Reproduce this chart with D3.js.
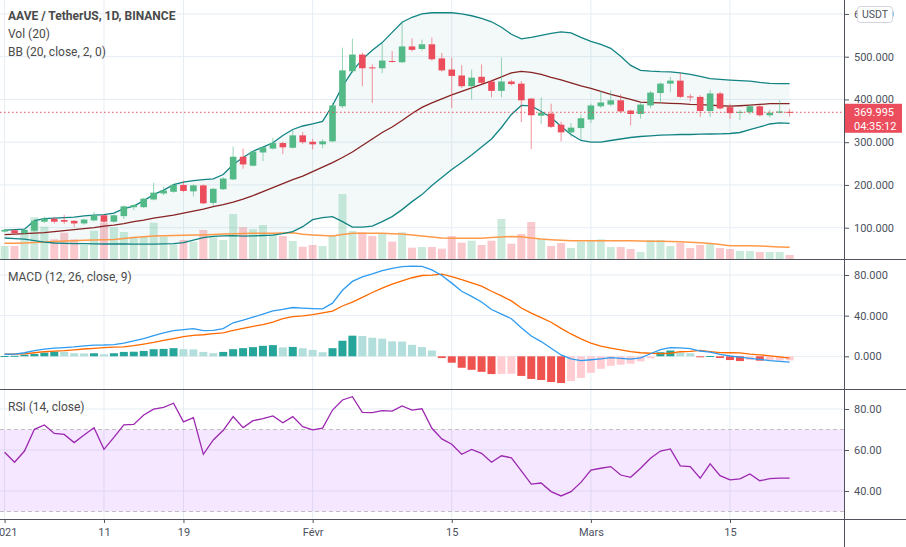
<!DOCTYPE html>
<html>
<head>
<meta charset="utf-8">
<script src="https://cdn.jsdelivr.net/npm/d3@7"></script>
<style>
body{margin:0;background:#fff;}
svg{display:block;font-family:Roboto,"Open Sans",sans-serif;}
</style>
</head>
<body>
<svg id="chart" width="906" height="547"></svg>
<script>
// daily candles, 1 Jan 2021 -> 21 Mar 2021
const firstDay = Date.UTC(2021, 0, 1);
const lastDay = Date.UTC(2021, 2, 22);

const open = [91,94,87,93,114,121,118,116,110,117,
  129,114,127,148,148,166,180,184,200,185,
  199,158,190,213,266,245,276,285,298,287,
  316,301,295,302,384,466,505,475,473,490,
  487,524,518,529,496,470,456,431,453,442,
  420,442,437,402,362,367,341,323,333,353,
  384,388,398,374,366,386,415,437,444,407,
  406,373,414,382,369,370,384,363,369,371];
const high = [97,96,97,119,126,125,130,118,121,137,
  131,131,152,155,170,205,196,203,210,201,
  201,193,218,290,285,280,290,310,301,328,
  324,308,307,392,521,542,510,482,531,513,
  583,543,540,545,509,498,480,470,482,446,
  498,446,443,403,405,390,348,345,365,390,
  420,421,412,376,392,420,440,453,462,413,
  410,422,418,390,376,386,387,376,398,378];
const low = [89,85,85,91,111,110,109,101,107,115,
  112,112,120,141,146,164,176,182,183,173,
  155,150,188,211,238,243,256,283,272,285,
  296,283,286,300,380,462,431,392,461,486,
  485,512,514,491,465,380,427,400,436,405,
  405,433,347,284,342,333,302,313,306,345,
  380,384,368,339,355,380,392,417,403,395,
  359,359,376,355,352,365,360,358,367,360];
const close = [95,87,95,116,121,114,114,110,119,129,
  114,129,150,153,168,182,187,200,186,199,
  157,191,215,266,248,278,288,298,288,316,
  300,295,302,386,468,505,473,473,491,488,
  524,516,529,494,468,455,431,451,439,420,
  442,436,398,363,369,336,323,334,356,386,
  393,398,372,366,388,416,437,444,406,406,
  373,414,379,368,371,384,363,369,372,369.995];

const volume = [13,13,25.7,41.7,32.3,19.7,26.3,19.7,14,28.3,
  36.3,31.7,27,22.3,23,36.3,22.3,14.7,19,17.3,
  29,21.7,19,45,31.7,29.7,34,25.7,23,18,
  12.3,14,13,24,65,28,26.7,23,25.7,17.3,
  26.7,11.3,12,12,10.3,23,16.3,18.3,14,18.3,
  40,15.3,25,37,20.5,13,16,11,17.3,18.3,
  19.7,12,12,10,7,19,19,13,16,11,
  14,16,11,10,8,8,7,7,7,4];
const volumeMA = [15.7,15.7,16,16.5,17,17.5,18,18.3,18.7,19,
  19.3,19.5,20.5,21.5,22.3,23,23.3,23.5,23.8,24,
  24,24.5,25,25.3,25.5,25.7,25.7,25.7,26,26.3,
  24.7,24,23.5,23,24.5,25.7,25.7,25.7,25.7,25.3,
  25,24,23,22,21,20.7,20.7,20.7,20.7,21.5,
  22,22.5,22.3,21,20,19.3,18.8,18.3,18.3,18.3,
  18.3,18.3,18.3,18.2,18,17.8,17.7,17.5,17.2,16.8,
  16.3,15.5,14.5,13.3,13.3,13.2,13,12.5,12,11.7];

const bbUpper = [94.2,95.4,96.6,116.5,121.2,122.3,123.5,124.7,127.5,129.4,
  130.5,134,144.6,150.5,163.3,177.4,188,200.8,206.7,210.2,
  212.6,214.2,224.3,247.7,264.1,278.9,288.7,298.6,315.7,329.7,
  337.9,342.6,348.5,386,430.5,466.4,493.8,514.9,532.9,557,
  580.5,592.2,600.4,602.8,603.2,602.8,600.4,595.8,589.9,581.7,
  568.8,552.4,541.8,545.3,550,554.7,558.2,555.9,545.3,536,
  528.9,519.6,500.8,479.7,468,466.1,465,464.5,462.2,458.6,
  453.9,448.6,446.9,445.3,444.1,442.9,439.9,437.5,436.8,436.8];
const bbBasis = [83.7,84.8,86,87.2,88.4,90.7,93,95.4,97.7,100.1,
  103.6,105.9,109.4,114.1,117.6,122.3,125.9,129.4,134,138.7,
  143.4,149.3,154,159.8,166.9,175.1,184.4,193.8,203.2,212.6,
  220.8,231.3,241.9,252.4,264.1,277,292.2,307.5,322.7,335.6,
  350.8,367.2,381.3,391.8,401.2,410.6,418.8,427,435.2,443.4,
  452.8,462.2,465.7,463.3,458.6,451.6,445.7,438.7,431.7,425.8,
  418.8,411.8,405.9,400,393.7,392.5,391.8,390.7,390,388.3,
  387.9,386.5,385.3,384.3,385.3,386.7,388.3,390,390.2,390];
const bbLower = [75.9,74.3,73.1,69.6,66.1,64.2,63.3,62.6,62.6,62.1,
  61.9,61.9,61.9,61.6,61.6,61.6,62.1,62.6,64.9,70.8,
  76.6,79.7,80.9,81.3,80.1,80.9,81.8,82.5,86,90.7,
  102.4,118.8,123.5,125.9,114.1,101.2,101.2,103.6,114.1,125.9,
  142.3,161,177.4,198.5,217.3,236,252.4,270,288.7,307.5,
  334.4,364.9,386,384.8,371.9,357.9,336.8,318,304,300.4,
  300.4,304,307.5,311,313.3,315,316.4,317.3,318,318,
  318.7,319.2,319.7,320.4,322.7,329.7,335.6,342.6,345,343.8];

const macdLine = [2,2.2,3.5,5.5,7,8,8.6,9.2,10.2,11,
  11.1,11.5,13,15.1,17.5,20.4,23,25.3,26.3,27.3,
  25.3,25.6,27.2,33,35.5,38.5,41.5,44.7,46.2,48,
  47.5,47,46.7,52.3,65,73.7,78.2,81,84.2,86.5,
  88.3,88.8,88.5,85,79.5,72,64,59,53.5,46,
  41.5,37,28,20,14.5,8,1.3,-2.5,-4.3,-3.4,
  -2.5,-1.4,-2,-2.7,-1.5,2.5,6.5,8.5,8.2,7.5,
  5.2,4.2,2,0.3,-0.8,-2,-3,-4.3,-5,-5.8];
const signalLine = [2,2.1,2.4,3.5,4.5,5,5.5,6.4,7.2,7.8,
  8.5,9,9.3,10.5,12,13.6,15.7,17.5,19.4,20.5,
  21.2,22.3,23,25.5,27.5,29.5,31.2,33.7,37,39,
  39.8,41,42.7,44.5,49.5,53.4,58,62.8,67,71,
  74.3,77.3,79.5,79.8,80.8,78.5,75.5,72.3,69,64,
  59.5,54.5,47.5,42.5,38,33.5,27.5,22,17.2,13,
  10,8,6.3,4.6,3.5,3,2.6,3,4.5,4.8,
  5.8,4.7,3.7,3.5,3.3,2.2,1.5,0.5,-0.6,-1.8];
const macdHist = [0.3,0.5,1.6,2.3,3.6,4.6,4.5,3,2.8,3,
  2,3,4.3,4.5,5.3,7,7.3,8,7,6.8,
  4.3,3,4.3,7,8,9,10.3,11,8.8,9.2,
  8,6.3,4,8,15.3,20.3,20,18.3,17.3,14.7,
  14.5,11.3,9,5.7,-1.7,-6.3,-11.3,-13.3,-15.3,-17.5,
  -17.3,-17.2,-19.3,-22.3,-23.3,-25.3,-26.3,-24.3,-21.3,-16.3,
  -12.3,-9.3,-8.3,-7.3,-5,-2,4,5.7,3.7,3,
  -0.7,0.3,-1.7,-3.7,-4.7,-3.7,-4.3,-4.2,-4.1,-4];

const rsi = [58.9,54,59.5,70.1,72.2,68.1,67.6,63.6,67.3,70.9,
  60.3,66.2,72.3,72.5,77.1,79.9,80.8,82.8,73.7,75.8,
  57.9,64.9,69.6,76.3,70.9,74.3,75.3,76.6,73.3,76.3,
  71.4,69.8,70.7,79.5,84.4,86,78.4,78.2,79.2,79,
  81.5,79.5,80.1,70.6,65.4,62.8,57.9,60.3,58.4,54,
  57.2,56.2,49.8,43.4,43.9,39.7,37.6,39.7,44.2,50.2,
  51.1,51.9,47.8,46.7,51.1,56,59.5,60.5,52.3,51.9,
  46.2,53.2,47.5,45.4,45.9,48.3,45,46,46.3,46.3];

const priceTicks = [100, 200, 300, 400, 500, 600];
const macdTicks = [0, 40, 80];
const rsiTicks = [40, 60, 80];
const timeTicks = [Date.UTC(2021,0,1), Date.UTC(2021,0,11), Date.UTC(2021,0,19),
  Date.UTC(2021,1,1), Date.UTC(2021,1,15), Date.UTC(2021,2,1), Date.UTC(2021,2,15)];
const timeLabels = ["2021", "11", "19", "Févr", "15", "Mars", "15"];

const days = d3.utcDay.range(new Date(firstDay), new Date(lastDay));
const candles = days.map((d, i) => ({
  date: d, o: open[i], h: high[i], l: low[i], c: close[i], v: volume[i],
  vma: volumeMA[i], up: bbUpper[i], mid: bbBasis[i], lo: bbLower[i],
  macd: macdLine[i], sig: signalLine[i], hist: macdHist[i], rsi: rsi[i]
}));

const plotRight = 844;
const panes = {main: [0, 259], macd: [259, 389], rsi: [389, 519]};

const upColor = "#53b987", downColor = "#eb4d5c";
const gridColor = "#e6edf3", lineColor = "#50535e", textColor = "#4c525e";

const x = d3.scaleUtc()
  .domain([new Date(Date.UTC(2021,0,1)), new Date(Date.UTC(2021,2,15))])
  .range([4.6, 730]);
const y = d3.scaleLinear().domain([100, 500]).range([227.7, 56.7]);
const yVol = d3.scaleLinear().domain([0, 100]).range([259, 159]);
const yMacd = d3.scaleLinear().domain([0, 80]).range([356.3, 275]);
const yRsi = d3.scaleLinear().domain([40, 80]).range([491, 409]);

const svg = d3.select("#chart");
const defs = svg.append("defs");
Object.entries(panes).forEach(([k, p]) => {
  defs.append("clipPath").attr("id", "clip-" + k)
    .append("rect").attr("x", 0).attr("y", p[0])
    .attr("width", plotRight).attr("height", p[1] - p[0]);
});

// grid
const grid = svg.append("g");
timeTicks.forEach(t => {
  grid.append("line").attr("x1", x(t)).attr("x2", x(t))
    .attr("y1", 0).attr("y2", panes.rsi[1])
    .attr("stroke", gridColor);
});
[[priceTicks, y], [macdTicks, yMacd], [rsiTicks, yRsi]].forEach(([ticks, s]) => {
  ticks.forEach(t => {
    grid.append("line").attr("x1", 0).attr("x2", plotRight)
      .attr("y1", s(t)).attr("y2", s(t)).attr("stroke", gridColor);
  });
});

// ---------- main pane ----------
const main = svg.append("g").attr("clip-path", "url(#clip-main)");

main.append("path").datum(candles)
  .attr("fill", "#198787").attr("fill-opacity", 0.05)
  .attr("d", d3.area().x(d => x(d.date)).y0(d => y(d.lo)).y1(d => y(d.up)));

main.append("g").selectAll("rect").data(candles).join("rect")
  .attr("x", d => x(d.date) - 4).attr("width", 8)
  .attr("y", d => yVol(d.v)).attr("height", d => yVol(0) - yVol(d.v))
  .attr("fill", d => d.c >= d.o ? upColor : downColor)
  .attr("fill-opacity", 0.3);

main.append("path").datum(candles)
  .attr("fill", "none").attr("stroke", "#ff9a4a").attr("stroke-width", 1.5)
  .attr("d", d3.line().x(d => x(d.date)).y(d => yVol(d.vma)));

[["up", "#138484"], ["lo", "#138484"], ["mid", "#872323"]].forEach(([k, col]) => {
  main.append("path").datum(candles)
    .attr("fill", "none").attr("stroke", col).attr("stroke-width", 1.3)
    .attr("d", d3.line().x(d => x(d.date)).y(d => y(d[k])));
});

const cg = main.append("g").selectAll("g").data(candles).join("g");
cg.append("line")
  .attr("x1", d => x(d.date)).attr("x2", d => x(d.date))
  .attr("y1", d => y(d.h)).attr("y2", d => y(d.l))
  .attr("stroke", d => d.c >= d.o ? upColor : downColor)
  .attr("stroke-opacity", 0.6);
cg.append("rect")
  .attr("x", d => x(d.date) - 3.3).attr("width", 6.6)
  .attr("y", d => y(Math.max(d.o, d.c)))
  .attr("height", d => Math.max(1, Math.abs(y(d.o) - y(d.c))))
  .attr("fill", d => d.c >= d.o ? upColor : downColor);

const lastClose = close[close.length - 1];
main.append("line").attr("x1", 0).attr("x2", plotRight)
  .attr("y1", y(lastClose)).attr("y2", y(lastClose))
  .attr("stroke", downColor).attr("stroke-dasharray", "1.5,2.5");

// ---------- MACD pane ----------
const macdG = svg.append("g").attr("clip-path", "url(#clip-macd)");
macdG.append("g").selectAll("rect").data(candles).join("rect")
  .attr("x", d => x(d.date) - 4).attr("width", 8)
  .attr("y", d => yMacd(Math.max(0, d.hist)))
  .attr("height", d => Math.max(1, Math.abs(yMacd(d.hist) - yMacd(0))))
  .attr("fill", (d, i) => {
    const prev = i ? macdHist[i - 1] : 0;
    if (d.hist >= 0) return d.hist >= prev ? "#26a69a" : "#b2dfdb";
    return d.hist < prev ? "#ef5350" : "#ffcdd2";
  });
macdG.append("path").datum(candles)
  .attr("fill", "none").attr("stroke", "#ff6a00").attr("stroke-width", 1.3)
  .attr("d", d3.line().x(d => x(d.date)).y(d => yMacd(d.sig)));
macdG.append("path").datum(candles)
  .attr("fill", "none").attr("stroke", "#2f9bf0").attr("stroke-width", 1.3)
  .attr("d", d3.line().x(d => x(d.date)).y(d => yMacd(d.macd)));

// ---------- RSI pane ----------
const rsiG = svg.append("g").attr("clip-path", "url(#clip-rsi)");
rsiG.append("rect").attr("x", 0).attr("width", plotRight)
  .attr("y", yRsi(70)).attr("height", yRsi(30) - yRsi(70))
  .attr("fill", "#9915ff").attr("fill-opacity", 0.1);
[70, 30].forEach(v => {
  rsiG.append("line").attr("x1", 0).attr("x2", plotRight)
    .attr("y1", yRsi(v)).attr("y2", yRsi(v))
    .attr("stroke", "#c0c0c0").attr("stroke-dasharray", "4,3");
});
rsiG.append("path").datum(candles)
  .attr("fill", "none").attr("stroke", "#9c27b0").attr("stroke-width", 1.3)
  .attr("d", d3.line().x(d => x(d.date)).y(d => yRsi(d.rsi)));

// ---------- axes ----------
function styleAxis(g) {
  g.select(".domain").remove();
  g.selectAll(".tick line").attr("stroke", lineColor);
  g.selectAll(".tick text").attr("fill", textColor).style("font-size", "11px")
    .style("font-family", "Roboto, 'Open Sans', sans-serif");
}
svg.append("g").attr("transform", `translate(${plotRight},0)`)
  .call(d3.axisRight(y).tickValues(priceTicks).tickFormat(d3.format(".3f")).tickSize(5).tickPadding(5))
  .call(styleAxis);
svg.append("g").attr("transform", `translate(${plotRight},0)`)
  .call(d3.axisRight(yMacd).tickValues(macdTicks).tickFormat(d3.format(".3f")).tickSize(5).tickPadding(5))
  .call(styleAxis);
svg.append("g").attr("transform", `translate(${plotRight},0)`)
  .call(d3.axisRight(yRsi).tickValues(rsiTicks).tickFormat(d3.format(".2f")).tickSize(5).tickPadding(5))
  .call(styleAxis);
svg.append("g").attr("transform", `translate(0,${panes.rsi[1]})`)
  .call(d3.axisBottom(x).tickValues(timeTicks.map(t => new Date(t)))
    .tickFormat((d, i) => timeLabels[i]).tickSize(4).tickPadding(5))
  .call(styleAxis);

// pane separators and price axis line
[panes.main[1], panes.macd[1], panes.rsi[1]].forEach(v => {
  svg.append("line").attr("x1", 0).attr("x2", 906)
    .attr("y1", v + 0.5).attr("y2", v + 0.5).attr("stroke", lineColor);
});
svg.append("line").attr("x1", plotRight + 0.5).attr("x2", plotRight + 0.5)
  .attr("y1", 0).attr("y2", 547).attr("stroke", lineColor);

// last price label
const tag = svg.append("g");
tag.append("rect").attr("x", plotRight + 1).attr("y", y(lastClose) - 8.5)
  .attr("width", 57).attr("height", 29).attr("fill", downColor);
tag.append("text").attr("x", 854).attr("y", y(lastClose) + 4)
  .attr("fill", "#fff").style("font-size", "11px").text(d3.format(".3f")(lastClose));
tag.append("text").attr("x", 854).attr("y", y(lastClose) + 17.5)
  .attr("fill", "#fff").style("font-size", "11px").text("04:35:12");

// currency badge
svg.append("rect").attr("x", 857.5).attr("y", 6.5).attr("width", 35).attr("height", 16)
  .attr("rx", 3).attr("fill", "#fff").attr("stroke", "#d1d4dc");
svg.append("text").attr("x", 875).attr("y", 18.3).attr("text-anchor", "middle")
  .attr("fill", textColor).style("font-size", "10.5px").text("USDT");

// legends
const legends = [
  ["AAVE / TetherUS, 1D, BINANCE", 20, 700],
  ["Vol (20)", 38, 400],
  ["BB (20, close, 2, 0)", 56, 400],
  ["MACD (12, 26, close, 9)", 281, 400],
  ["RSI (14, close)", 411, 400]
];
legends.forEach(([t, yy, w]) => {
  svg.append("text").attr("x", 8).attr("y", yy)
    .attr("fill", "#4a4a4a").style("font-size", "12px").style("font-weight", w)
    .text(t);
});
</script>
</body>
</html>
